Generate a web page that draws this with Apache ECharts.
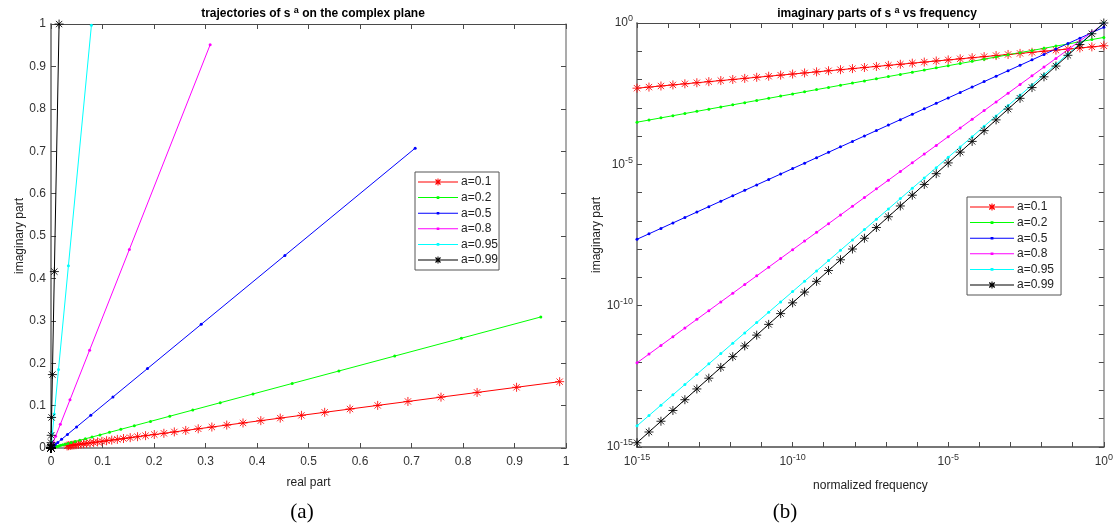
<!DOCTYPE html>
<html>
<head>
<meta charset="utf-8">
<script src="https://cdn.jsdelivr.net/npm/echarts@6/dist/echarts.min.js"></script>
<style>
  html, body { margin: 0; padding: 0; background: #ffffff; }
  #chart { width: 1116px; height: 529px; }
</style>
</head>
<body>
<div id="chart"></div>
<script>
// s = j*w evaluated at 40 log-spaced normalized frequencies, s^a for six orders a
const seriesNames = ['a=0.1', 'a=0.2', 'a=0.5', 'a=0.8', 'a=0.95', 'a=0.99'];

const freq = [1e-15, 2.4245e-15, 5.878e-15, 1.4251e-14, 3.4551e-14, 8.3768e-14, 2.0309e-13, 4.9239e-13, 1.1938e-12, 2.8943e-12,
  7.017e-12, 1.7013e-11, 4.1246e-11, 1e-10, 2.4245e-10, 5.878e-10, 1.4251e-9, 3.4551e-9, 8.3768e-9, 2.0309e-8,
  4.9239e-8, 1.1938e-7, 2.8943e-7, 7.017e-7, 1.7013e-6, 4.1246e-6, 1e-5, 2.4245e-5, 5.878e-5, 1.4251e-4,
  3.4551e-4, 8.3768e-4, 2.0309e-3, 4.9239e-3, 1.1938e-2, 2.8943e-2, 7.017e-2, 0.17013, 0.41246, 1];

const re01 = [0.031234, 0.034126, 0.037286, 0.040738, 0.044511, 0.048633, 0.053138, 0.058056, 0.063434, 0.069306,
  0.075728, 0.082737, 0.090398, 0.098769, 0.107915, 0.11791, 0.128824, 0.140755, 0.153793, 0.168035,
  0.183601, 0.20059, 0.219178, 0.239465, 0.261648, 0.285867, 0.312336, 0.341256, 0.372862, 0.407382,
  0.445111, 0.486328, 0.531376, 0.580563, 0.634343, 0.693061, 0.75728, 0.827367, 0.903982, 0.987688];
const im01 = [0.004947, 0.005405, 0.005906, 0.006452, 0.00705, 0.007703, 0.008416, 0.009195, 0.010047, 0.010977,
  0.011994, 0.013104, 0.014318, 0.015643, 0.017092, 0.018675, 0.020404, 0.022293, 0.024358, 0.026614,
  0.02908, 0.03177, 0.034714, 0.037928, 0.041441, 0.045277, 0.049469, 0.05405, 0.059055, 0.064523,
  0.070498, 0.077027, 0.084161, 0.091952, 0.10047, 0.10977, 0.119941, 0.131042, 0.143176, 0.156434];

const re02 = [0.00095106, 0.0011354, 0.0013554, 0.001618, 0.0019315, 0.0023058, 0.0027526, 0.003286, 0.0039227, 0.0046829,
  0.0055903, 0.0066736, 0.0079668, 0.0095106, 0.011354, 0.013554, 0.01618, 0.019315, 0.023058, 0.027526,
  0.03286, 0.039227, 0.046829, 0.055903, 0.066736, 0.079668, 0.095106, 0.11354, 0.13554, 0.1618,
  0.19315, 0.23058, 0.27526, 0.3286, 0.39227, 0.46829, 0.55903, 0.66736, 0.79668, 0.95106];
const im02 = [0.00030902, 0.0003689, 0.00044038, 0.00052573, 0.00062758, 0.00074921, 0.00089439, 0.0010677, 0.0012746, 0.0015216,
  0.0018164, 0.0021684, 0.0025886, 0.0030902, 0.003689, 0.0044038, 0.0052573, 0.0062758, 0.0074921, 0.0089439,
  0.010677, 0.012746, 0.015216, 0.018164, 0.021684, 0.025886, 0.030902, 0.03689, 0.044038, 0.052573,
  0.062758, 0.074921, 0.089439, 0.10677, 0.12746, 0.15216, 0.18164, 0.21684, 0.25886, 0.30902];

const re05 = [2.2361e-8, 3.4817e-8, 5.4215e-8, 8.4414e-8, 1.3144e-7, 2.0466e-7, 3.1867e-7, 4.9618e-7, 7.7259e-7, 1.203e-6,
  1.8732e-6, 2.9165e-6, 4.5414e-6, 7.0711e-6, 1.101e-5, 1.7144e-5, 2.6694e-5, 4.1564e-5, 6.4718e-5, 1.0077e-4,
  1.5691e-4, 2.4431e-4, 3.8042e-4, 5.9233e-4, 9.2228e-4, 1.4361e-3, 2.2361e-3, 3.4817e-3, 5.4215e-3, 8.4414e-3,
  0.013144, 0.020466, 0.031867, 0.049618, 0.077259, 0.1203, 0.18732, 0.29165, 0.45414, 0.70711];
const im05 = [2.2361e-8, 3.4817e-8, 5.4215e-8, 8.4414e-8, 1.3144e-7, 2.0466e-7, 3.1867e-7, 4.9618e-7, 7.7259e-7, 1.203e-6,
  1.8732e-6, 2.9165e-6, 4.5414e-6, 7.0711e-6, 1.101e-5, 1.7144e-5, 2.6694e-5, 4.1564e-5, 6.4718e-5, 1.0077e-4,
  1.5691e-4, 2.4431e-4, 3.8042e-4, 5.9233e-4, 9.2228e-4, 1.4361e-3, 2.2361e-3, 3.4817e-3, 5.4215e-3, 8.4414e-3,
  0.013144, 0.020466, 0.031867, 0.049618, 0.077259, 0.1203, 0.18732, 0.29165, 0.45414, 0.70711];

const re08 = [3.0902e-13, 6.2758e-13, 1.2746e-12, 2.5886e-12, 5.2573e-12, 1.0677e-11, 2.1684e-11, 4.4038e-11, 8.9439e-11, 1.8164e-10,
  3.689e-10, 7.4921e-10, 1.5216e-9, 3.0902e-9, 6.2758e-9, 1.2746e-8, 2.5886e-8, 5.2573e-8, 1.0677e-7, 2.1684e-7,
  4.4038e-7, 8.9439e-7, 1.8164e-6, 3.689e-6, 7.4921e-6, 1.5216e-5, 3.0902e-5, 6.2758e-5, 1.2746e-4, 2.5886e-4,
  5.2573e-4, 1.0677e-3, 2.1684e-3, 4.4038e-3, 8.9439e-3, 0.018164, 0.03689, 0.074921, 0.15216, 0.30902];
const im08 = [9.5106e-13, 1.9315e-12, 3.9227e-12, 7.9668e-12, 1.618e-11, 3.286e-11, 6.6736e-11, 1.3554e-10, 2.7526e-10, 5.5903e-10,
  1.1354e-9, 2.3058e-9, 4.6829e-9, 9.5106e-9, 1.9315e-8, 3.9227e-8, 7.9668e-8, 1.618e-7, 3.286e-7, 6.6736e-7,
  1.3554e-6, 2.7526e-6, 5.5903e-6, 1.1354e-5, 2.3058e-5, 4.6829e-5, 9.5106e-5, 1.9315e-4, 3.9227e-4, 7.9668e-4,
  1.618e-3, 3.286e-3, 6.6736e-3, 0.013554, 0.027526, 0.055903, 0.11354, 0.23058, 0.46829, 0.95106];

const re095 = [4.4121e-16, 1.0233e-15, 2.3736e-15, 5.5055e-15, 1.277e-14, 2.9619e-14, 6.8699e-14, 1.5934e-13, 3.6959e-13, 8.5724e-13,
  1.9883e-12, 4.6118e-12, 1.0696e-11, 2.4811e-11, 5.7547e-11, 1.3348e-10, 3.096e-10, 7.181e-10, 1.6655e-9, 3.8632e-9,
  8.9608e-9, 2.0785e-8, 4.8206e-8, 1.1181e-7, 2.5934e-7, 6.0156e-7, 1.3952e-6, 3.2361e-6, 7.506e-6, 1.7411e-5,
  4.0381e-5, 9.3664e-5, 2.1725e-4, 5.039e-4, 1.1687e-3, 2.7108e-3, 6.2879e-3, 0.014585, 0.033826, 0.078459];
const im095 = [5.6061e-15, 1.3003e-14, 3.016e-14, 6.9954e-14, 1.6226e-13, 3.7635e-13, 8.729e-13, 2.0246e-12, 4.6961e-12, 1.0892e-11,
  2.5264e-11, 5.8599e-11, 1.3591e-10, 3.1526e-10, 7.312e-10, 1.6961e-9, 3.9338e-9, 9.1243e-9, 2.1163e-8, 4.9087e-8,
  1.1386e-7, 2.6409e-7, 6.1252e-7, 1.4207e-6, 3.2952e-6, 7.6436e-6, 1.7728e-5, 4.1119e-5, 9.5373e-5, 2.2123e-4,
  5.1309e-4, 1.1901e-3, 2.7605e-3, 6.4027e-3, 0.01485, 0.034444, 0.079896, 0.18532, 0.4298, 0.99692];

const re099 = [2.2186e-17, 5.3316e-17, 1.2812e-16, 3.0789e-16, 7.3989e-16, 1.778e-15, 4.2728e-15, 1.0268e-14, 2.4674e-14, 5.9295e-14,
  1.4249e-13, 3.4241e-13, 8.2286e-13, 1.9774e-12, 4.7518e-12, 1.1419e-11, 2.7442e-11, 6.5943e-11, 1.5847e-10, 3.8082e-10,
  9.1512e-10, 2.1991e-9, 5.2846e-9, 1.2699e-8, 3.0519e-8, 7.3337e-8, 1.7623e-7, 4.2351e-7, 1.0177e-6, 2.4457e-6,
  5.8772e-6, 1.4123e-5, 3.394e-5, 8.156e-5, 1.9599e-4, 4.7099e-4, 1.1319e-3, 2.72e-3, 6.5362e-3, 0.015707];
const im099 = [1.4123e-15, 3.394e-15, 8.1561e-15, 1.96e-14, 4.71e-14, 1.1319e-13, 2.72e-13, 6.5363e-13, 1.5707e-12, 3.7746e-12,
  9.0707e-12, 2.1797e-11, 5.2382e-11, 1.2588e-10, 3.0249e-10, 7.2692e-10, 1.7469e-9, 4.1978e-9, 1.0088e-8, 2.4242e-8,
  5.8255e-8, 1.3999e-7, 3.3641e-7, 8.0842e-7, 1.9428e-6, 4.6685e-6, 1.1219e-5, 2.696e-5, 6.4786e-5, 1.5569e-4,
  3.7413e-4, 8.9907e-4, 2.1605e-3, 5.192e-3, 0.012476, 0.029982, 0.072051, 0.17315, 0.41608, 0.99988];

// tick positions of the log-log panel
const decadeTicks = [1e-15, 1e-14, 1e-13, 1e-12, 1e-11, 1e-10, 1e-9, 1e-8, 1e-7, 1e-6, 1e-5, 1e-4, 1e-3, 1e-2, 1e-1, 1];
const decadeLabels = [1e-15, 1e-10, 1e-5, 1];

const realParts = [re01, re02, re05, re08, re095, re099];
const imagParts = [im01, im02, im05, im08, im095, im099];

// drawing styles
const ASTERISK = 'path://M0,5L10,5M5,0L5,10M1.5,1.5L8.5,8.5M1.5,8.5L8.5,1.5';
// legend glyphs drawn in a 40x10 box: a 1px line with a dot or an asterisk in the middle
const BOX = 'M0,0L0.01,0M40,10L39.99,10';
const LINE = 'M0,4.5H40V5.5H0Z';
const ICON_DOT = 'path://' + BOX + LINE + 'M18.7,3.7H21.3V6.3H18.7Z';
const ICON_STAR = 'path://' + BOX + LINE +
  'M19.5,1.4H20.5V8.6H19.5Z' +
  'M17.1,2.9L17.9,2.1L22.9,7.1L22.1,7.9Z' +
  'M22.1,2.1L22.9,2.9L17.9,7.9L17.1,7.1Z';

const lineColors = ['#ff0000', '#00ff00', '#0000ff', '#ff00ff', '#00ffff', '#000000'];
const useAsterisk = [true, false, false, false, false, true];

const FONT = 'Liberation Sans, Arial, sans-serif';
const AXIS_DARK = '#4a4a4a';
const AXIS_LIGHT = '#8f8f8f';
const LABEL_COLOR = '#333333';

function pairUp(xs, ys) {
  return xs.map((x, i) => [x, ys[i]]);
}

function lineSeries(i, xs, ys, xAxisIndex, yAxisIndex) {
  const color = lineColors[i];
  const star = useAsterisk[i];
  return {
    name: seriesNames[i],
    type: 'line',
    xAxisIndex: xAxisIndex,
    yAxisIndex: yAxisIndex,
    data: pairUp(xs, ys),
    showAllSymbol: true,
    symbol: star ? ASTERISK : 'circle',
    symbolSize: star ? 9 : 3,
    lineStyle: { color: color, width: 1 },
    itemStyle: star
      ? { color: color, borderColor: color, borderWidth: 1, opacity: 0.85 }
      : { color: color, borderWidth: 0 },
    emphasis: { disabled: true },
    silent: true,
    animation: false
  };
}

function logLabel(v) {
  return '{b|10}{s|' + Math.round(Math.log10(v)) + '}';
}
const logRich = {
  b: { fontSize: 12, color: LABEL_COLOR, fontFamily: FONT },
  s: { fontSize: 9, color: LABEL_COLOR, fontFamily: FONT, padding: [0, 0, 8, 0] }
};

function boxAxis(extra, lineColor, lineWidth) {
  return Object.assign({
    axisLine: { show: true, onZero: false, lineStyle: { color: lineColor, width: lineWidth } },
    axisTick: { show: true, inside: true, length: 5, lineStyle: { color: AXIS_DARK, width: 1 } },
    splitLine: { show: false },
    axisLabel: { show: false }
  }, extra);
}

const series = [];
for (let i = 0; i < seriesNames.length; i++) {
  series.push(lineSeries(i, realParts[i], imagParts[i], 0, 0));
}
for (let i = 0; i < seriesNames.length; i++) {
  series.push(lineSeries(i, freq, imagParts[i], 2, 2));
}

const legendItems = seriesNames.map((name, i) => ({ name: name, icon: useAsterisk[i] ? ICON_STAR : ICON_DOT }));

function legendBox(left, top, width, padRight) {
  return {
    left: left, top: top,
    orient: 'vertical',
    data: legendItems,
    itemWidth: width,
    itemHeight: 10,
    itemGap: 3.6,
    symbolKeepAspect: false,
    selectedMode: false,
    backgroundColor: '#ffffff',
    borderColor: '#555555',
    borderWidth: 1,
    borderRadius: 0,
    padding: [4, padRight, 4, 3],
    itemStyle: { borderWidth: 0, opacity: 1 },
    textStyle: { fontSize: 12, color: '#222222', fontFamily: FONT, padding: [0, 0, 0, -2] }
  };
}

const option = {
  animation: false,
  textStyle: { fontFamily: FONT },
  title: [
    {
      text: 'trajectories of s {s|a} on the complex plane',
      left: 308, top: 1, textAlign: 'center',
      textStyle: { fontSize: 12, fontWeight: 'bold', color: '#000', fontFamily: FONT,
        rich: { s: { fontSize: 9, fontWeight: 'bold', color: '#000', padding: [0, 0, 7, 0] } } }
    },
    {
      text: 'imaginary parts of s {s|a} vs frequency',
      left: 872, top: 1, textAlign: 'center',
      textStyle: { fontSize: 12, fontWeight: 'bold', color: '#000', fontFamily: FONT,
        rich: { s: { fontSize: 9, fontWeight: 'bold', color: '#000', padding: [0, 0, 7, 0] } } }
    },
    {
      text: '(a)', left: 297, top: 497, textAlign: 'center',
      textStyle: { fontSize: 21, fontWeight: 'normal', color: '#000', fontFamily: 'Liberation Serif, Times New Roman, serif' }
    },
    {
      text: '(b)', left: 780, top: 497, textAlign: 'center',
      textStyle: { fontSize: 21, fontWeight: 'normal', color: '#000', fontFamily: 'Liberation Serif, Times New Roman, serif' }
    }
  ],
  legend: [
    legendBox(415, 172, 40, 1),
    legendBox(967, 197, 44, 7)
  ],
  grid: [
    { left: 51, top: 24, width: 515, height: 424 },
    { left: 637, top: 23, width: 470, height: 424 }
  ],
  xAxis: [
    boxAxis({
      gridIndex: 0, type: 'value', min: 0, max: 1, interval: 0.1, position: 'bottom',
      name: 'real part', nameLocation: 'middle', nameGap: 29,
      nameTextStyle: { fontSize: 12, color: '#222', fontFamily: FONT },
      axisLabel: { show: true, margin: 8, fontSize: 12, color: LABEL_COLOR, fontFamily: FONT }
    }, AXIS_LIGHT, 2),
    boxAxis({ gridIndex: 0, type: 'value', min: 0, max: 1, interval: 0.1, position: 'top' }, AXIS_DARK, 1),
    boxAxis({
      gridIndex: 1, type: 'log', logBase: 10, min: 1e-15, max: 1, position: 'bottom',
      name: 'normalized frequency', nameLocation: 'middle', nameGap: 33,
      nameTextStyle: { fontSize: 12, color: '#222', fontFamily: FONT },
      axisTick: { show: true, inside: true, length: 5, customValues: decadeTicks, lineStyle: { color: AXIS_DARK, width: 1 } },
      axisLabel: { show: true, margin: 6, customValues: decadeLabels, formatter: logLabel, rich: logRich }
    }, AXIS_DARK, 1.5),
    boxAxis({
      gridIndex: 1, type: 'log', logBase: 10, min: 1e-15, max: 1, position: 'top',
      axisTick: { show: true, inside: true, length: 5, customValues: decadeTicks, lineStyle: { color: AXIS_DARK, width: 1 } }
    }, AXIS_DARK, 1)
  ],
  yAxis: [
    boxAxis({
      gridIndex: 0, type: 'value', min: 0, max: 1, interval: 0.1, position: 'left',
      name: 'imaginary part', nameLocation: 'middle', nameGap: 25,
      nameTextStyle: { fontSize: 12, color: '#222', fontFamily: FONT },
      axisLabel: { show: true, margin: 5, fontSize: 12, color: LABEL_COLOR, fontFamily: FONT }
    }, AXIS_LIGHT, 2),
    boxAxis({ gridIndex: 0, type: 'value', min: 0, max: 1, interval: 0.1, position: 'right' }, AXIS_LIGHT, 1.5),
    boxAxis({
      gridIndex: 1, type: 'log', logBase: 10, min: 1e-15, max: 1, position: 'left',
      name: 'imaginary part', nameLocation: 'middle', nameGap: 27,
      nameTextStyle: { fontSize: 12, color: '#222', fontFamily: FONT },
      axisTick: { show: true, inside: true, length: 5, customValues: decadeTicks, lineStyle: { color: AXIS_DARK, width: 1 } },
      axisLabel: { show: true, margin: 4, customValues: decadeLabels, formatter: logLabel, rich: logRich }
    }, AXIS_LIGHT, 2),
    boxAxis({
      gridIndex: 1, type: 'log', logBase: 10, min: 1e-15, max: 1, position: 'right',
      axisTick: { show: true, inside: true, length: 5, customValues: decadeTicks, lineStyle: { color: AXIS_DARK, width: 1 } }
    }, AXIS_LIGHT, 1.5)
  ],
  series: series
};

const chart = echarts.init(document.getElementById('chart'), null, { renderer: 'canvas' });
chart.setOption(option);
</script>
</body>
</html>
